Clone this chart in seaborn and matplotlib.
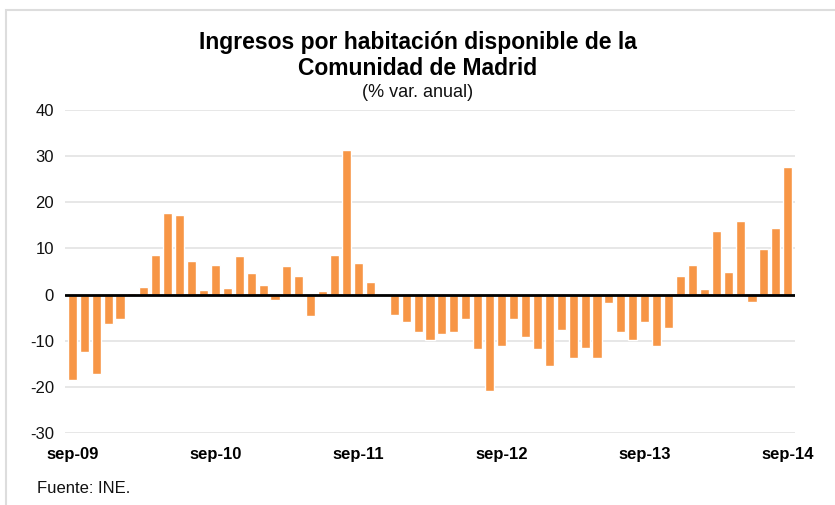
import pandas as pd
import matplotlib.pyplot as plt
import seaborn as sns
from matplotlib.patches import Rectangle

# =====================================================
# DATA
# =====================================================

MESES = ["ene", "feb", "mar", "abr", "may", "jun",
         "jul", "ago", "sep", "oct", "nov", "dic"]

fechas = pd.date_range("2009-09-01", "2014-09-01", freq="MS")
periodos = [f"{MESES[d.month - 1]}-{d.strftime('%y')}" for d in fechas]

variacion = [
    -18.5, -12.4, -17.3, -6.3, -5.2, 0.3, 1.7, 8.5, 17.6, 17.3,
    7.2, 1.1, 6.5, 1.4, 8.3, 4.6, 2.0, -1.2, 6.3, 4.0,
    -4.7, 0.7, 8.5, 31.3, 6.9, 2.7, -0.2, -4.4, -6.0, -8.2,
    -9.9, -8.6, -8.0, -5.3, -11.9, -20.8, -11.1, -5.3, -9.2, -11.9,
    -15.4, -7.6, -13.8, -11.5, -13.8, -1.8, -8.2, -9.9, -6.0, -11.1,
    -7.3, 4.0, 6.5, 1.3, 13.7, 4.9, 16.0, -1.7, 9.9, 14.4,
    27.6,
]

tick_labels = ["sep-09", "sep-10", "sep-11", "sep-12", "sep-13", "sep-14"]
y_ticks = [40, 30, 20, 10, 0, -10, -20, -30]

df = pd.DataFrame({"periodo": periodos, "variacion": variacion})

# =====================================================
# PLOT
# =====================================================

sns.set_style("white")
plt.rcParams["font.family"] = ["Liberation Sans", "DejaVu Sans"]

fig = plt.figure(figsize=(8.35, 5.05), dpi=100)
ax = fig.add_axes([0.078, 0.1426, 0.874, 0.6394])

ax.yaxis.grid(True, color="#e3e3e3", linewidth=1.2)
ax.set_axisbelow(True)

sns.barplot(
    data=df,
    x="periodo",
    y="variacion",
    color="#F79646",
    saturation=1,
    width=0.76,
    ax=ax
)

ax.axhline(0, color="black", linewidth=2, zorder=3)

ax.set_ylim(-30, 40)
ax.set_xlim(-0.6, len(periodos) - 0.4)
ax.set_yticks(y_ticks)
ax.set_yticklabels([str(v) for v in y_ticks], fontsize=12, color="#111111")

ax.set_xticks([periodos.index(t) for t in tick_labels])
ax.set_xticklabels(tick_labels, fontsize=12, fontweight="bold", color="black")
ax.tick_params(axis="y", length=0, pad=8)
ax.tick_params(axis="x", length=0, pad=10)

ax.set_xlabel("")
ax.set_ylabel("")

for side in ["top", "right", "left", "bottom"]:
    ax.spines[side].set_visible(False)

fig.text(0.5, 0.915, "Ingresos por habitación disponible de la",
         ha="center", va="center", fontsize=16.5, fontweight="bold", color="black")
fig.text(0.5, 0.864, "Comunidad de Madrid",
         ha="center", va="center", fontsize=16.5, fontweight="bold", color="black")
fig.text(0.5, 0.816, "(% var. anual)",
         ha="center", va="center", fontsize=13, color="#111111")
fig.text(0.044, 0.033, "Fuente: INE.",
         ha="left", va="center", fontsize=12, color="#111111")

fig.patches.append(
    Rectangle((0.007, -0.01), 1.0, 0.99, transform=fig.transFigure,
              fill=False, edgecolor="#dddddd", linewidth=1.5)
)

fig.savefig("out.png", dpi=100)
plt.close(fig)
